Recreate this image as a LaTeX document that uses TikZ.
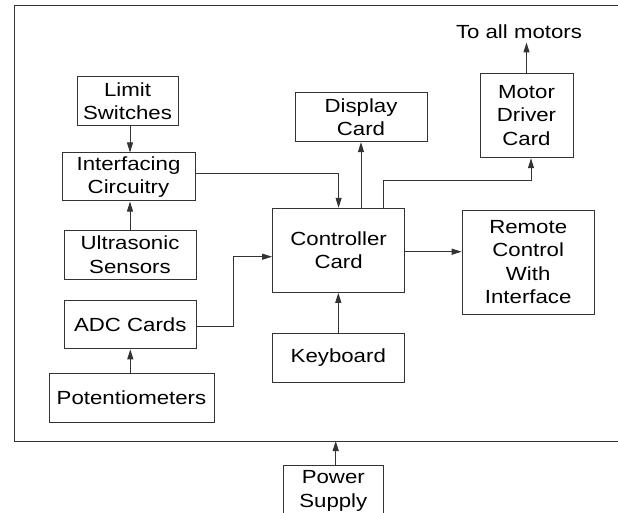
\documentclass[tikz,border=0pt]{standalone}
\usepackage{fontspec}
\setmainfont[FakeStretch=1.17]{Liberation Sans}
\usetikzlibrary{arrows.meta}
\begin{document}
\begin{tikzpicture}[x=1pt,y=-1pt,
  line width=1pt,
  every node/.style={font=\fontsize{19}{23.4}\selectfont},
  box/.style={draw=black!80, line width=1pt, align=center, inner sep=0pt},
  conn/.style={draw=black!80, line width=1pt},
  arr/.style={conn, -{Triangle[length=10pt,width=6pt]}}]
\useasboundingbox (0,0) rectangle (618,513);
% outer frame (right side beyond the picture)
\draw[conn] (630,6) -- (14.5,6) -- (14.5,441) -- (630,441);
% boxes
\node[box, minimum width=101pt, minimum height=49pt] (lim) at (127.5,101.5) {Limit\\Switches};
\node[box, minimum width=133pt, minimum height=48pt] (intf) at (128.5,177) {Interfacing\\Circuitry};
\node[box, minimum width=132pt, minimum height=48.5pt] (us) at (130,254.8) {Ultrasonic\\Sensors};
\node[box, minimum width=132pt, minimum height=48.5pt] (adc) at (130.3,324.6) {ADC Cards};
\node[box, minimum width=165pt, minimum height=49pt] (pot) at (131.5,397.5) {Potentiometers};
\node[box, minimum width=132pt, minimum height=48.7pt] (disp) at (361,117.3) {Display\\Card};
\node[box, minimum width=93pt, minimum height=84.5pt] (mot) at (526.5,115.5) {Motor\\Driver\\Card};
\node[box, minimum width=132pt, minimum height=84pt] (ctrl) at (338.6,250.3) {Controller\\Card};
\node[box, minimum width=132pt, minimum height=104.3pt] (rem) at (528.2,262.2) {Remote\\Control\\With\\Interface};
\node[box, minimum width=132pt, minimum height=48.7pt] (kb) at (338.3,357.7) {Keyboard};
\node[box, minimum width=100pt, minimum height=51.4pt] (ps) at (333.3,491) {Power\\Supply};
\node[anchor=base, inner sep=0pt] (tam) at (519,39) {To all motors};
% connector helper points
\coordinate (tamtip) at (527,42.5);
\coordinate (m1) at (383,180.7);
\coordinate (a1) at (233,326.7);
\coordinate (a2) at (233,256.7);
\coordinate (fb) at (335.7,441);
% connectors
\draw[arr] ([xshift=2.5pt]lim.south) -- ([xshift=2.5pt]lim.south |- intf.north);
\draw[arr] (us.north) -- (us.north |- intf.south);
\draw[arr] ([yshift=3.3pt]intf.east) -| (ctrl.north);
\draw[arr] (ctrl.north -| disp.south) -- (disp.south);
\draw[arr] (ctrl.north -| m1) -- (m1) -| ([xshift=4.5pt]mot.south);
\draw[arr] (mot.north) -- (mot.north |- tamtip);
\draw[arr] ([yshift=-1.4pt]ctrl.east) -- ([yshift=-1.4pt]ctrl.east -| rem.west);
\draw[arr] (adc.east |- a1) -- (a1) -- (a2) -- (ctrl.west |- a2);
\draw[arr] (adc.south |- pot.north) -- (adc.south);
\draw[arr] (kb.north) -- (kb.north |- ctrl.south);
\draw[arr] (ps.north -| fb) -- (fb);
\end{tikzpicture}
\end{document}
